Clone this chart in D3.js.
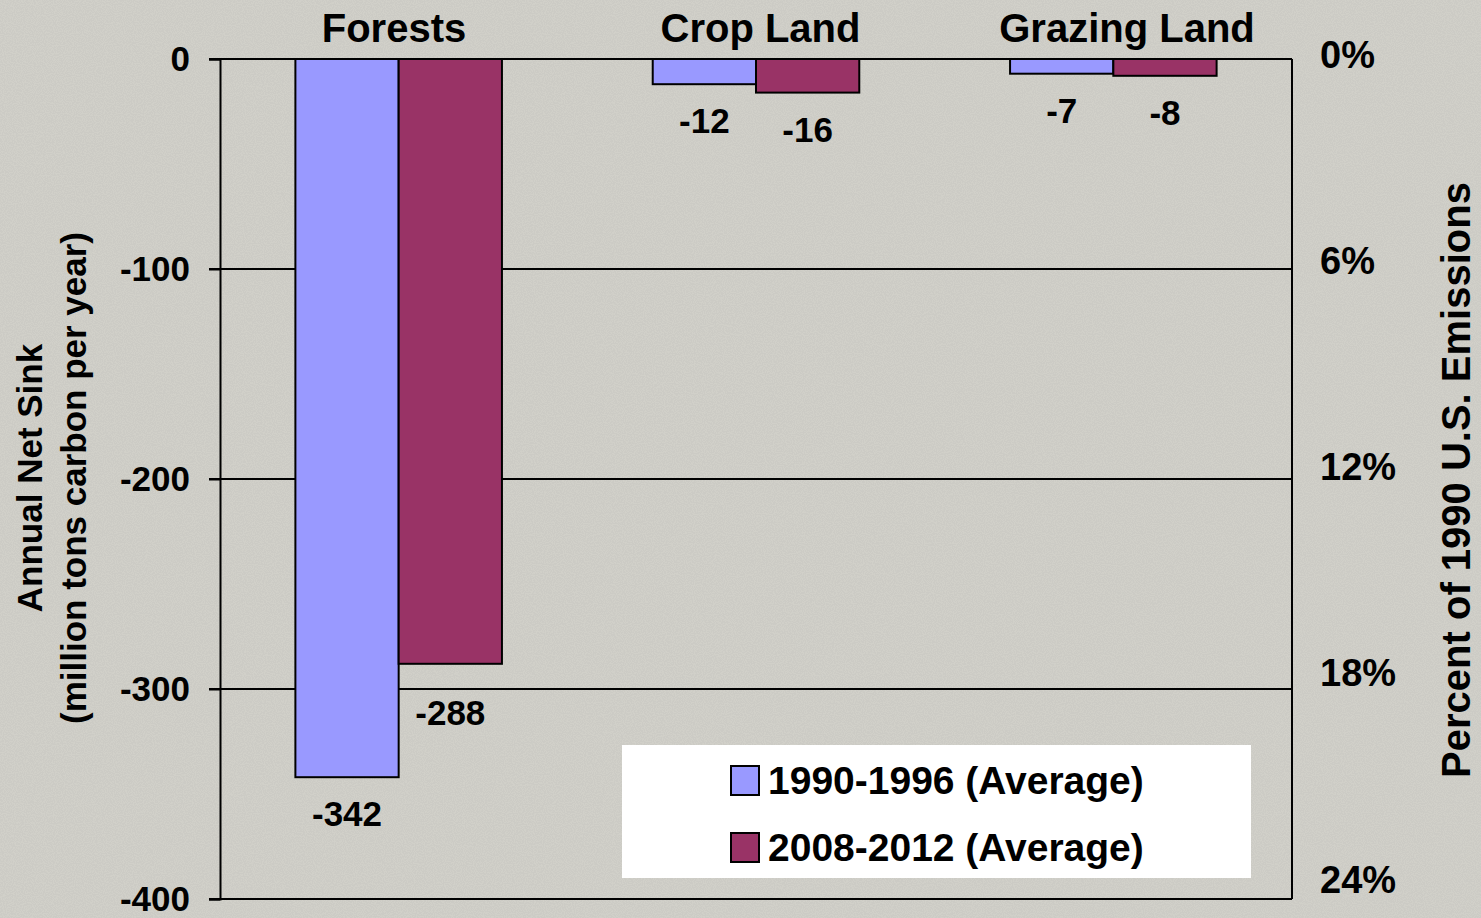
<!DOCTYPE html>
<html>
<head>
<meta charset="utf-8">
<script src="https://cdn.jsdelivr.net/npm/d3@7"></script>
<style>
    html, body { margin: 0; padding: 0; background: #d1d0c9; }
    svg { display: block; font-family: "Liberation Sans", Arial, sans-serif; font-weight: bold; }
</style>
</head>
<body>
<div id="graph"></div>
<script>
// Data
var categories = ["Forests", "Crop Land", "Grazing Land"];
var seriesNames = ["1990-1996 (Average)", "2008-2012 (Average)"];
var values1990 = [-342, -12, -7];
var values2008 = [-288, -16, -8];
var leftTicks = [0, -100, -200, -300, -400];
var rightTicks = [0, 6, 12, 18, 24];

// Canvas Info
var CanvasInfo = {
    width: 1481,
    height: 918,
    id: "#graph"
};

// Plot box
var PlotInfo = {
    left: 220,
    right: 1292,
    top: 59,
    bottom: 899
};

var colors = ["#9999ff", "#993366"];

/**
 * Setup the canvas with a speckled grey background
 *
 * @return the svg selection
 */
function SetupCanvas()
{
    var svg = d3.select(CanvasInfo.id)
                .append("svg")
                .attr("width", CanvasInfo.width)
                .attr("height", CanvasInfo.height);

    var filter = svg.append("defs")
                    .append("filter")
                    .attr("id", "speckle")
                    .attr("x", 0).attr("y", 0)
                    .attr("width", "100%").attr("height", "100%");
    filter.append("feTurbulence")
          .attr("type", "fractalNoise")
          .attr("baseFrequency", 0.9)
          .attr("numOctaves", 1)
          .attr("seed", 3);
    filter.append("feColorMatrix")
          .attr("type", "matrix")
          .attr("values", "0 0 0 0 0.55  0 0 0 0 0.55  0 0 0 0 0.52  0 0 0 -9 5.2");

    svg.append("rect")
       .attr("width", CanvasInfo.width)
       .attr("height", CanvasInfo.height)
       .attr("fill", "#d1d0c9");

    svg.append("rect")
       .attr("width", CanvasInfo.width)
       .attr("height", CanvasInfo.height)
       .attr("filter", "url(#speckle)")
       .attr("opacity", 0.35);

    return svg;
}

/**
 * Draw the grouped bar chart
 */
function SetupBarPlot()
{
    var svg = SetupCanvas();
    var seriesValues = [values1990, values2008];

    var x0 = d3.scaleBand()
               .domain(categories)
               .range([PlotInfo.left, PlotInfo.right]);

    var x1 = d3.scaleBand()
               .domain(d3.range(seriesNames.length))
               .range([0, x0.bandwidth()])
               .paddingInner(0)
               .paddingOuter(0.73);

    // titles in the original are spread a bit wider than the bands
    var xTitle = d3.scalePoint()
                   .domain(categories)
                   .range([PlotInfo.left + 174, PlotInfo.right - 165]);

    var y = d3.scaleLinear()
              .domain([0, -400])
              .range([PlotInfo.top, PlotInfo.bottom]);

    // right axis sits slightly higher than the left one in the original
    var yRight = d3.scaleLinear()
                   .domain([0, 24])
                   .range([PlotInfo.top - 4, PlotInfo.bottom - 19]);

    // Gridlines (0 and -400 form the top and bottom of the box)
    svg.append("g")
       .selectAll("line")
       .data(leftTicks)
       .join("line")
       .attr("x1", PlotInfo.left - 11)
       .attr("x2", PlotInfo.right)
       .attr("y1", function(d) { return y(d); })
       .attr("y2", function(d) { return y(d); })
       .attr("stroke", "#000")
       .attr("stroke-width", 2);

    // Left axis
    var leftAxis = svg.append("g")
                      .attr("transform", "translate(" + PlotInfo.left + ",0)")
                      .call(d3.axisLeft(y).tickValues(leftTicks).tickSize(11).tickPadding(19)
                              .tickFormat(function(d) { return String(d); }));
    leftAxis.select(".domain").attr("stroke", "#000").attr("stroke-width", 2);
    leftAxis.selectAll(".tick line").attr("stroke-width", 2);
    leftAxis.selectAll(".tick text")
            .attr("font-size", 35)
            .attr("font-family", "Liberation Sans, Arial, sans-serif")
            .attr("font-weight", "bold")
            .attr("fill", "#000");

    // Right border
    svg.append("line")
       .attr("x1", PlotInfo.right).attr("x2", PlotInfo.right)
       .attr("y1", PlotInfo.top).attr("y2", PlotInfo.bottom)
       .attr("stroke", "#000")
       .attr("stroke-width", 2);

    // Right axis (labels only)
    var rightAxis = svg.append("g")
                       .attr("transform", "translate(" + PlotInfo.right + ",0)")
                       .call(d3.axisRight(yRight).tickValues(rightTicks).tickSize(0).tickPadding(28)
                               .tickFormat(function(d) { return d + "%"; }));
    rightAxis.select(".domain").remove();
    rightAxis.selectAll(".tick text")
             .attr("font-size", 38)
             .attr("font-family", "Liberation Sans, Arial, sans-serif")
             .attr("font-weight", "bold")
             .attr("fill", "#000");

    // Bars
    var bars = [];
    categories.forEach(function(cat, ci)
    {
        seriesValues.forEach(function(vals, si)
        {
            bars.push({ cat: cat, series: si, value: vals[ci] });
        });
    });

    svg.append("g")
       .selectAll("rect")
       .data(bars)
       .join("rect")
       .attr("x", function(d) { return x0(d.cat) + x1(d.series); })
       .attr("y", y(0))
       .attr("width", x1.bandwidth())
       .attr("height", function(d) { return y(d.value) - y(0); })
       .attr("fill", function(d) { return colors[d.series]; })
       .attr("stroke", "#000")
       .attr("stroke-width", 2);

    // Value labels, pushed below any gridline they would touch
    var labelHeight = 25;
    svg.append("g")
       .selectAll("text")
       .data(bars)
       .join("text")
       .attr("x", function(d) { return x0(d.cat) + x1(d.series) + x1.bandwidth() / 2; })
       .attr("y", function(d)
       {
           var top = y(d.value) + 24;
           leftTicks.forEach(function(t)
           {
               var gy = y(t);
               if (gy > top - 6 && gy < top + labelHeight + 4) { top = gy + 11; }
           });
           return top + labelHeight;
       })
       .attr("text-anchor", "middle")
       .attr("font-size", 35)
       .text(function(d) { return d.value; });

    // Category titles
    svg.append("g")
       .selectAll("text")
       .data(categories)
       .join("text")
       .attr("x", function(d) { return xTitle(d); })
       .attr("y", 42)
       .attr("text-anchor", "middle")
       .attr("font-size", 40)
       .text(function(d) { return d; });

    // Left title
    var midY = (PlotInfo.top + PlotInfo.bottom) / 2 - 1;
    svg.append("text")
       .attr("transform", "translate(42," + midY + ") rotate(-90)")
       .attr("text-anchor", "middle")
       .attr("font-size", 35)
       .text("Annual Net Sink");
    svg.append("text")
       .attr("transform", "translate(86," + midY + ") rotate(-90)")
       .attr("text-anchor", "middle")
       .attr("font-size", 35)
       .text("(million tons carbon per year)");

    // Right title
    svg.append("text")
       .attr("transform", "translate(1470," + (midY + 2) + ") rotate(-90)")
       .attr("text-anchor", "middle")
       .attr("font-size", 40)
       .text("Percent of 1990 U.S. Emissions");

    // Legend
    var legend = svg.append("g")
                    .attr("transform", "translate(622,745)");
    legend.append("rect")
          .attr("width", 629)
          .attr("height", 133)
          .attr("fill", "#fff");

    var items = legend.selectAll("g")
                      .data(seriesNames)
                      .join("g")
                      .attr("transform", function(d, i) { return "translate(0," + (i * 67) + ")"; });
    items.append("rect")
         .attr("x", 109)
         .attr("y", 21)
         .attr("width", 28)
         .attr("height", 29)
         .attr("fill", function(d, i) { return colors[i]; })
         .attr("stroke", "#000")
         .attr("stroke-width", 2);
    items.append("text")
         .attr("x", 146)
         .attr("y", 49)
         .attr("font-size", 39)
         .text(function(d) { return d; });
}

SetupBarPlot();
</script>
</body>
</html>
